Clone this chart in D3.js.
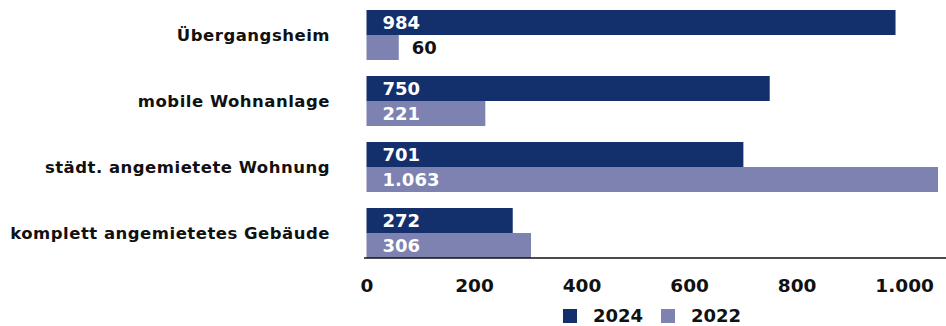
<!DOCTYPE html>
<html lang="de">
<head>
<meta charset="utf-8">
<script src="https://cdn.jsdelivr.net/npm/d3@7/dist/d3.min.js"></script>
<style>
  html, body { margin: 0; padding: 0; background: #fff; }
  svg { display: block; font-family: "DejaVu Sans", sans-serif; font-weight: 700; }
</style>
</head>
<body>
<svg id="chart" width="946" height="326"></svg>
<script>
// Unterbringungsarten, Anzahl Personen 2024 und 2022
const categories = ["Übergangsheim", "mobile Wohnanlage", "städt. angemietete Wohnung", "komplett angemietetes Gebäude"];
const values2024 = [984, 750, 701, 272];
const values2022 = [60, 221, 1063, 306];
const seriesNames = ["2024", "2022"];
const seriesColors = ["#13306d", "#7d82b0"];
const tickValues = [0, 200, 400, 600, 800, 1000];

const fmt = d3.formatLocale({ decimal: ",", thousands: ".", grouping: [3], currency: ["", "€"] }).format(",d");

const svg = d3.select("#chart");
const xLeft = 366.5, xRight = 938;

const x = d3.scaleLinear()
  .domain([0, d3.max(values2024.concat(values2022))])
  .range([xLeft, xRight]);

const y = d3.scaleBand()
  .domain(categories)
  .range([10, 258])
  .paddingInner(16 / 66)
  .paddingOuter(0);

const sub = d3.scaleBand()
  .domain(seriesNames)
  .range([0, y.bandwidth()]);

const rows = categories.map((c, i) => ({ cat: c, vals: [values2024[i], values2022[i]] }));

const groups = svg.append("g").selectAll("g")
  .data(rows)
  .join("g")
  .attr("transform", d => `translate(0,${y(d.cat)})`);

groups.selectAll("rect")
  .data(d => d.vals.map((v, j) => ({ v, s: seriesNames[j], c: seriesColors[j] })))
  .join("rect")
  .attr("x", x(0))
  .attr("y", d => sub(d.s))
  .attr("width", d => x(d.v) - x(0))
  .attr("height", sub.bandwidth())
  .attr("fill", d => d.c);

groups.selectAll("text.val")
  .data(d => d.vals.map((v, j) => ({ v, s: seriesNames[j] })))
  .join("text")
  .attr("class", "val")
  .attr("y", d => sub(d.s) + sub.bandwidth() / 2)
  .attr("dy", "0.36em")
  .attr("font-size", 18)
  .text(d => fmt(d.v))
  .each(function (d) {
    const w = this.getComputedTextLength();
    const barW = x(d.v) - x(0);
    const inside = barW > w + 24;
    d3.select(this)
      .attr("x", inside ? x(0) + 16 : x(d.v) + 13)
      .attr("fill", inside ? "#ffffff" : "#111111");
  });

// Kategorienbeschriftung
svg.append("g").selectAll("text")
  .data(categories)
  .join("text")
  .attr("x", 330)
  .attr("y", d => y(d) + y.bandwidth() / 2)
  .attr("dy", "0.36em")
  .attr("text-anchor", "end")
  .attr("font-size", 16.5)
  .attr("letter-spacing", 0.5)
  .attr("fill", "#111")
  .text(d => d);

// x-Achse
const axis = svg.append("g")
  .attr("transform", "translate(0,258)")
  .call(d3.axisBottom(x).tickValues(tickValues).tickSize(0).tickPadding(0).tickFormat(fmt));
axis.select(".domain").remove();
axis.append("line")
  .attr("x1", 364).attr("x2", 946)
  .attr("stroke", "#111").attr("stroke-width", 1.6);
axis.selectAll(".tick text")
  .attr("y", 27)
  .attr("dy", "0.36em")
  .attr("font-size", 18.5)
  .attr("font-family", "'DejaVu Sans', sans-serif")
  .attr("font-weight", 700)
  .attr("fill", "#111");

// Legende
const legend = svg.append("g").attr("transform", "translate(563,316)");
const legendX = [0, 98];
const items = legend.selectAll("g")
  .data(seriesNames)
  .join("g")
  .attr("transform", (d, i) => `translate(${legendX[i]},0)`);
items.append("rect")
  .attr("x", 0).attr("y", -7)
  .attr("width", 14).attr("height", 14)
  .attr("fill", (d, i) => seriesColors[i]);
items.append("text")
  .attr("x", 30)
  .attr("dy", "0.36em")
  .attr("font-size", 18)
  .attr("fill", "#111")
  .text(d => d);
</script>
</body>
</html>
